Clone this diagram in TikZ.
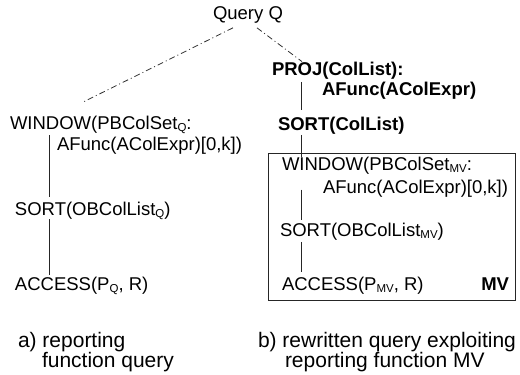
\documentclass[tikz,border=0pt]{standalone}
\usepackage{fontspec}
\setmainfont{Liberation Sans}
\newcommand{\sbs}[1]{\raisebox{-0.12em}{\fontsize{11.5}{11.5}\selectfont #1}}
\tikzset{
  lbl/.style={anchor=base west, inner sep=0pt, outer sep=0pt, font=\fontsize{18.5}{22}\selectfont},
  blbl/.style={lbl, font=\fontsize{18.5}{22}\selectfont\bfseries},
  captxt/.style={lbl, font=\fontsize{21}{24}\selectfont},
  link/.style={draw=black!85, line width=0.8pt},
  qlink/.style={draw=black!80, line width=0.8pt, dash pattern=on 6pt off 3pt on 1pt off 3pt},
  mvbox/.style={draw=black!85, line width=0.8pt}
}
\begin{document}
\begin{tikzpicture}[x=1pt, y=-1pt]
\useasboundingbox (0,0) rectangle (520,375);
% root
\node[lbl] (query) at (213,19) {Query Q};
% left tree
\node[lbl] (lwin) at (10,129) {WINDOW(PBColSet\sbs{Q}:};
\node[lbl] (lafunc) at (57,150) {AFunc(AColExpr)[0,k])};
\node[lbl] (lsort) at (15,215) {SORT(OBColList\sbs{Q})};
\node[lbl] (lacc) at (15,290) {ACCESS(P\sbs{Q}, R)};
% right tree
\node[blbl] (proj) at (272,75) {PROJ(ColList):};
\node[blbl] (projf) at (322,95) {AFunc(AColExpr)};
\node[blbl] (sortb) at (278,130) {SORT(ColList)};
\node[mvbox, inner sep=0pt, minimum width=247pt, minimum height=147pt, anchor=north west] (box) at (268,153) {};
\node[lbl] (rwin) at (282,170) {WINDOW(PBColSet\sbs{MV}:};
\node[lbl] (rafunc) at (323,193) {AFunc(AColExpr)[0,k])};
\node[lbl] (rsort) at (280,236) {SORT(OBColList\sbs{MV})};
\node[lbl] (racc) at (282,290) {ACCESS(P\sbs{MV}, R)};
\node[blbl, anchor=base east] (mv) at (509,290) {MV};
% captions
\node[captxt] (capa1) at (18,347) {a) reporting};
\node[captxt] (capa2) at (42,367) {function query};
\node[captxt] (capb1) at (258,347) {b) rewritten query exploiting};
\node[captxt] (capb2) at (285,367) {reporting function MV};
% vertical line positions
\coordinate (lx) at (49,0);
\coordinate (rx) at (301,0);
% query links
\draw[qlink] ([shift={(-15,5)}]query.south) -- ([shift={(72,-13)}]lwin.north west);
\draw[qlink] ([shift={(9,5)}]query.south) -- ([shift={(30,0)}]proj.north west);
% left tree links
\draw[link] ([shift={(0,2)}]lwin.south -| lx) -- ([shift={(0,-5)}]lsort.north -| lx);
\draw[link] (lsort.south -| lx) -- ([shift={(0,-2)}]lacc.north -| lx);
% right tree links
\draw[link] ([shift={(0,3)}]proj.south -| rx) -- ([shift={(0,-7)}]sortb.north -| rx);
\draw[link] ([shift={(0,1)}]sortb.south -| rx) -- (rwin.north -| rx);
\draw[link] ([shift={(0,10)}]rafunc.north -| rx) -- ([shift={(0,-3)}]rsort.north -| rx);
\draw[link] ([shift={(0,2)}]rsort.south -| rx) -- ([shift={(0,-5)}]racc.north -| rx);
\end{tikzpicture}
\end{document}
